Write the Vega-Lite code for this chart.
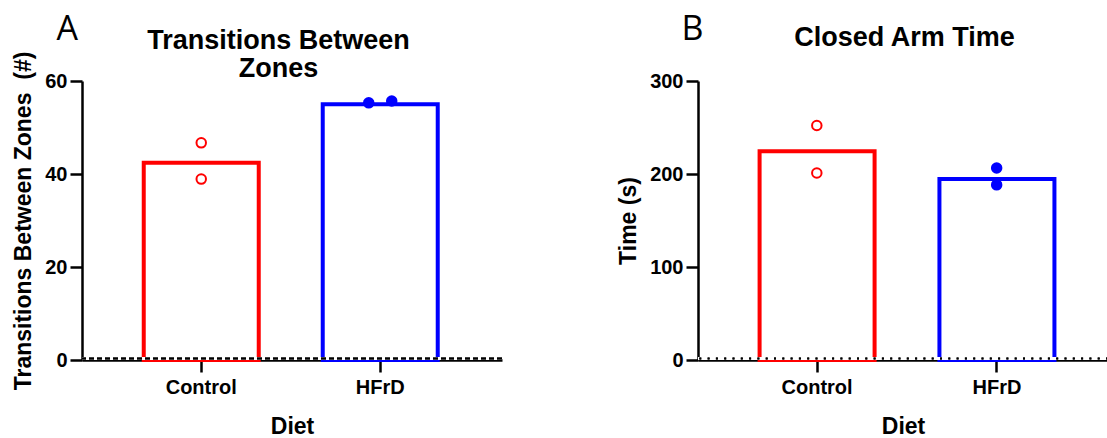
{
  "$schema": "https://vega.github.io/schema/vega-lite/v6.json",
  "background": "white",
  "padding": {"left": 12, "top": 12, "right": 0, "bottom": 0},
  "spacing": 113,
  "datasets": {
    "barsA": [{"diet": "Control", "mean": 42.4}, {"diet": "HFrD", "mean": 55.0}],
    "ptsA": [
      {"diet": "Control", "value": 46.7, "jitter": 0},
      {"diet": "Control", "value": 38.9, "jitter": 0},
      {"diet": "HFrD", "value": 55.3, "jitter": -1},
      {"diet": "HFrD", "value": 55.7, "jitter": 1}
    ],
    "barsB": [{"diet": "Control", "mean": 224.4}, {"diet": "HFrD", "mean": 194.6}],
    "ptsB": [
      {"diet": "Control", "value": 252.2, "jitter": 0},
      {"diet": "Control", "value": 201.1, "jitter": 0},
      {"diet": "HFrD", "value": 206.5, "jitter": 0},
      {"diet": "HFrD", "value": 188.3, "jitter": 0}
    ]
  },
  "hconcat": [
    {
      "width": 420,
      "height": 279,
      "layer": [
        {
          "data": {"name": "barsA"},
          "mark": {"type": "bar", "fill": "white", "strokeWidth": 4, "width": 115},
          "encoding": {
            "x": {"field": "diet", "type": "nominal", "sort": ["Control", "HFrD"], "title": "Diet",
                  "scale": {"type": "band", "domain": ["Control", "HFrD"], "paddingInner": 0.3575, "paddingOuter": 0.352, "align": 0.49},
                  "axis": {"labelAngle": 0, "tickSize": 12, "labelPadding": 5, "titlePadding": 18}},
            "y": {"field": "mean", "type": "quantitative", "title": "Transitions Between Zones\u00a0 (#)",
                  "scale": {"domain": [0, 60], "nice": false},
                  "axis": {"values": [0, 20, 40, 60], "tickSize": 12, "labelPadding": 3, "titlePadding": 9}},
            "stroke": {"field": "diet", "type": "nominal", "scale": {"domain": ["Control", "HFrD"], "range": ["#FF0000", "#0000FF"]}, "legend": null}
          }
        },
        {
          "data": {"name": "barsA"},
          "mark": {"type": "rule", "color": "white", "strokeWidth": 3, "yOffset": -1.5},
          "encoding": {"y": {"datum": 0, "axis": null}}
        },
        {
          "data": {"name": "barsA"},
          "mark": {"type": "rule", "color": "black", "strokeWidth": 2, "strokeDash": [5, 3], "yOffset": -1.5},
          "encoding": {"y": {"datum": 0, "axis": null}}
        },
        {
          "data": {"name": "ptsA"},
          "mark": {"type": "point", "size": 90, "opacity": 1, "strokeWidth": 2},
          "encoding": {
            "x": {"field": "diet", "type": "nominal", "sort": ["Control", "HFrD"],
                  "axis": {"orient": "top", "domain": false, "ticks": false, "labels": false, "minExtent": 0,
                           "title": ["Transitions Between", "Zones"], "titleFontSize": 27, "titleLineHeight": 28,
                           "titleX": 196, "titleY": -32.7, "titleAlign": "center", "titleBaseline": "alphabetic", "titleAngle": 0}},
            "y": {"field": "value", "type": "quantitative",
                  "axis": {"orient": "right", "domain": false, "ticks": false, "labels": false, "minExtent": 0,
                           "title": "A", "titleAngle": 0, "titleX": -446, "titleY": -42, "titleAlign": "left", "titleBaseline": "alphabetic",
                           "titleFont": "Open Sans", "titleFontSize": 34, "titleFontWeight": "normal"}},
            "xOffset": {"field": "jitter", "type": "quantitative", "scale": {"domain": [-1, 1], "range": [46, 69]}},
            "stroke": {"field": "diet", "type": "nominal", "legend": null},
            "fill": {"field": "diet", "type": "nominal", "scale": {"domain": ["Control", "HFrD"], "range": ["white", "#0000FF"]}, "legend": null}
          }
        }
      ],
      "resolve": {"axis": {"x": "independent", "y": "independent"}}
    },
    {
      "width": 410,
      "height": 279,
      "layer": [
        {
          "data": {"name": "barsB"},
          "mark": {"type": "bar", "fill": "white", "strokeWidth": 4, "width": 115},
          "encoding": {
            "x": {"field": "diet", "type": "nominal", "sort": ["Control", "HFrD"], "title": "Diet",
                  "scale": {"type": "band", "domain": ["Control", "HFrD"], "paddingInner": 0.3575, "paddingOuter": 0.3186, "align": 0.535},
                  "axis": {"labelAngle": 0, "tickSize": 12, "labelPadding": 5, "titlePadding": 18}},
            "y": {"field": "mean", "type": "quantitative", "title": "Time (s)",
                  "scale": {"domain": [0, 300], "nice": false},
                  "axis": {"values": [0, 100, 200, 300], "tickSize": 12, "labelPadding": 3, "titlePadding": 9}},
            "stroke": {"field": "diet", "type": "nominal", "scale": {"domain": ["Control", "HFrD"], "range": ["#FF0000", "#0000FF"]}, "legend": null}
          }
        },
        {
          "data": {"name": "barsB"},
          "mark": {"type": "rule", "color": "white", "strokeWidth": 3, "yOffset": -1.5},
          "encoding": {"y": {"datum": 0, "axis": null}}
        },
        {
          "data": {"name": "barsB"},
          "mark": {"type": "rule", "color": "black", "strokeWidth": 2, "strokeDash": [2, 6.3], "yOffset": -1.5},
          "encoding": {"y": {"datum": 0, "axis": null}}
        },
        {
          "data": {"name": "ptsB"},
          "mark": {"type": "point", "size": 90, "opacity": 1, "strokeWidth": 2},
          "encoding": {
            "x": {"field": "diet", "type": "nominal", "sort": ["Control", "HFrD"],
                  "axis": {"orient": "top", "domain": false, "ticks": false, "labels": false, "minExtent": 0,
                           "title": "Closed Arm Time", "titleFontSize": 27,
                           "titleX": 206, "titleY": -36, "titleAlign": "center", "titleBaseline": "alphabetic", "titleAngle": 0}},
            "y": {"field": "value", "type": "quantitative",
                  "axis": {"orient": "right", "domain": false, "ticks": false, "labels": false, "minExtent": 0,
                           "title": "B", "titleAngle": 0, "titleX": -427, "titleY": -42, "titleAlign": "left", "titleBaseline": "alphabetic",
                           "titleFont": "Open Sans", "titleFontSize": 34, "titleFontWeight": "normal"}},
            "xOffset": {"field": "jitter", "type": "quantitative", "scale": {"domain": [-1, 1], "range": [46.3, 69.3]}},
            "stroke": {"field": "diet", "type": "nominal", "legend": null},
            "fill": {"field": "diet", "type": "nominal", "scale": {"domain": ["Control", "HFrD"], "range": ["white", "#0000FF"]}, "legend": null}
          }
        }
      ],
      "resolve": {"axis": {"x": "independent", "y": "independent"}}
    }
  ],
  "config": {
    "view": {"stroke": null},
    "font": "Liberation Sans",
    "axis": {
      "domainColor": "black", "domainWidth": 2.5, "tickColor": "black", "tickWidth": 2.5,
      "labelFont": "Liberation Sans", "labelFontSize": 20, "labelFontWeight": "bold", "labelColor": "black",
      "titleFont": "Liberation Sans", "titleFontSize": 23, "titleFontWeight": "bold", "titleColor": "black",
      "grid": false, "zindex": 1
    }
  }
}
